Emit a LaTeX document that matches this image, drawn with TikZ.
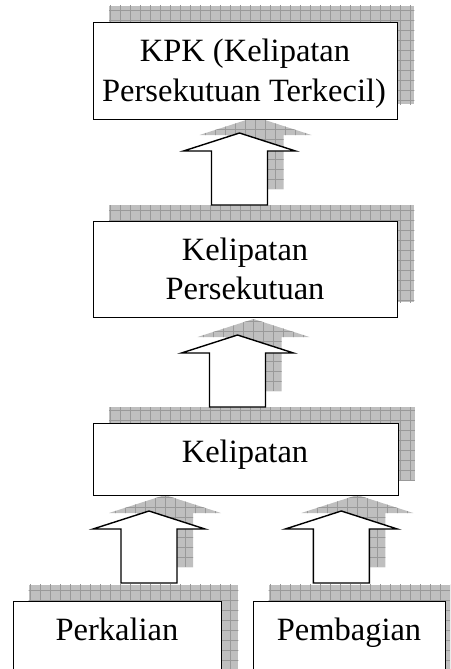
\documentclass[tikz,border=0pt]{standalone}
\usepackage{fontspec}
\setmainfont{Liberation Serif}
\usetikzlibrary{calc}
\pgfdeclarelayer{bg}
\pgfsetlayers{bg,main}
\tikzset{
  box/.style={draw=black, line width=1.4pt, fill=white, rectangle, inner sep=0pt, anchor=north west},
  lbl/.style={anchor=base, inner sep=0pt, font=\fontsize{32.5}{39}\selectfont},
  shfill/.style={fill=gray!50},
  shgrid/.style={draw=gray!80, line width=0.5pt},
  arrowline/.style={draw=black, line width=1.4pt, fill=white, line join=miter},
}
\newcommand{\arrowshape}{(-28,0) -- (-28,-54) -- (-56,-54) -- (0,-72) -- (56,-54) -- (28,-54) -- (28,0) -- cycle}
\newcommand{\gridfill}[1]{%
  \begin{scope}
    \clip #1;
    \fill[shfill] #1;
    \draw[shgrid, step=10pt] (-700,-900) grid (700,900);
  \end{scope}}
\begin{document}
\begin{tikzpicture}[x=1pt, y=-1pt]
\useasboundingbox (0,0) rectangle (450,669);
\clip (0,0) rectangle (450,669);
% boxes
\node[box, minimum width=304pt, minimum height=97pt] (kpk) at (93,22) {};
\node[box, minimum width=304pt, minimum height=96pt] (kelper) at (93,221) {};
\node[box, minimum width=304.5pt, minimum height=72pt] (kel) at (93,423) {};
\node[box, minimum width=208.3pt, minimum height=100pt] (perk) at (12.7,600.7) {};
\node[box, minimum width=191.8pt, minimum height=100pt] (pemb) at (252.7,600.7) {};
% labels
\node[lbl] (t1a) at (245,62) {KPK (Kelipatan};
\node[lbl] (t1b) at (244,101) {Persekutuan Terkecil)};
\node[lbl] (t2a) at (245,260.5) {Kelipatan};
\node[lbl] (t2b) at (245,299.5) {Persekutuan};
\node[lbl] (t3) at (245,462) {Kelipatan};
\node[lbl] (t4) at (117,640) {Perkalian};
\node[lbl] (t5) at (349,640) {Pembagian};
% block arrows (base points)
\coordinate (a1) at (239.5,205);
\coordinate (a2) at (237.5,407);
\coordinate (a3) at (149,583);
\coordinate (a4) at (341.3,583);
\foreach \a in {a1,a2,a3,a4}{
  \begin{scope}[shift={(\a)}]
    \draw[arrowline] \arrowshape;
  \end{scope}
}
% shadows
\begin{pgfonlayer}{bg}
  \clip (0,0) rectangle (450,669);
  \foreach \b in {kpk,kelper,kel,perk,pemb}{
    \gridfill{([shift={(16,-16)}]\b.north west) rectangle ([shift={(16,-16)}]\b.south east)}
  }
  \foreach \a in {a1,a2,a3,a4}{
    \begin{scope}[shift={(\a)}, shift={(16,-16)}]
      \gridfill{\arrowshape}
    \end{scope}
  }
\end{pgfonlayer}
\end{tikzpicture}
\end{document}
